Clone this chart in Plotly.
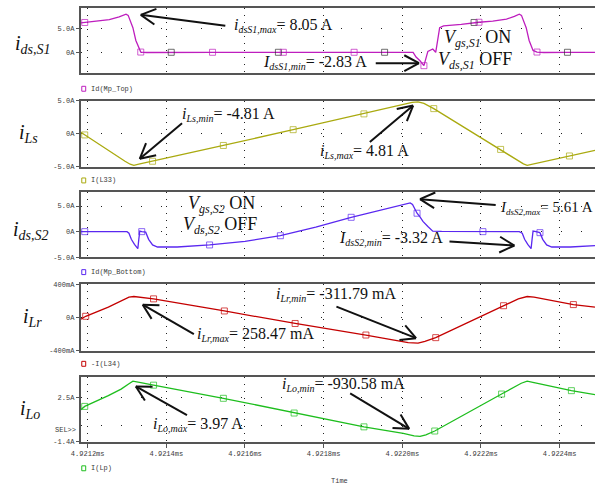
import math
import plotly.graph_objects as go

# Time origin of the sample offsets below (ms); samples are given in ns after it.
T0_MS = 4.9212

# Id(Mp_Top): drain current of the upper switch S1 (A)
S1_T_NS = [-17.5, -7.5, 25, 55, 80, 97.5, 103, 115, 122.5, 132.5, 135, 150, 212.5, 317.5,
           485, 497.5, 677.5, 755, 827.5, 835, 845, 855, 865, 877.5, 885, 895, 905, 950,
           982.5, 995, 1030, 1065, 1085, 1097.5, 1103, 1115, 1122.5, 1132.5, 1142.5, 1160,
           1220, 1290]
S1_I = [6.2, 6.3, 6.55, 6.9, 7.5, 8.05, 7.8, 5.2, 2.5, 0.4, 0.05, -0.05, 0, 0,
        0, 0, 0, 0, 0, -1.0, -1.8, -2.83, 0.2, 0.7, 0.0, 5.2, 5.6, 5.9,
        6.3, 6.35, 6.6, 7.0, 7.6, 8.05, 7.8, 5.2, 2.5, 0.4, 0.05, -0.05,
        0, 0]
S1_MK = [0, 1, 0, 0, 0, 0, 0, 0, 0, 0, 1, 0, 2, 1,
         2, 1, 1, 2, 0, 0, 0, 1, 0, 0, 0, 0, 0, 0,
         2, 1, 0, 0, 0, 0, 0, 0, 0, 0, 1, 0,
         2, 0]

# I(L33): series inductor current iLs (A)
LS_T_NS = [-17.5, -7.5, 50, 95, 108, 117.5, 130, 165, 345, 522.5, 702.5, 800, 825, 840,
           855, 880, 1050, 1095, 1108, 1117.5, 1130, 1225, 1290]
LS_I = [0.2, -0.2, -2.4, -4.2, -4.65, -4.81, -4.65, -4.2, -1.8, 0.6, 3.0, 4.4, 4.75, 4.81,
        4.6, 3.8, -2.4, -4.1, -4.6, -4.81, -4.65, -3.4, -2.55]
LS_MK = [0, 1, 0, 0, 0, 0, 0, 1, 1, 1, 1, 0, 0, 0,
         0, 1, 1, 0, 0, 0, 0, 1, 0]

# Id(Mp_Bottom): drain current of the lower switch S2 (A)
S2_T_NS = [-17.5, -7.5, 100, 105, 111, 119, 127.5, 130, 132.5, 137.5, 147.5, 155, 165, 177.5,
           227.5, 310, 400, 490, 580, 670, 760, 810, 820, 826, 832, 837.5, 845, 852.5,
           865, 877.5, 900, 1005, 1097.5, 1105, 1111, 1119, 1127.5, 1130, 1132.5, 1140,
           1150, 1157, 1167, 1180, 1227.5, 1290]
S2_I = [0, 0, 0, -0.3, -1.5, -2.5, -3.32, -1.5, 0.1, 0.0, -0.1, -1.5, -2.6, -3.0,
        -3.0, -2.6, -1.9, -0.8, 0.9, 2.8, 4.4, 5.4, 5.61, 5.3, 4.4, 3.6, 2.9, 2.0,
        1.0, 0.1, 0.05, 0.0, 0, -0.3, -1.5, -2.5, -3.32, -1.5, 0.1, 0.0,
        -0.2, -1.5, -2.6, -3.0, -3.0, -2.75]
S2_MK = [0, 1, 0, 0, 0, 0, 0, 0, 0, 1, 0, 0, 0, 0,
         0, 1, 0, 1, 0, 1, 0, 0, 0, 0, 0, 1, 0, 0,
         0, 0, 0, 1, 0, 0, 0, 0, 0, 0, 0, 0,
         1, 0, 0, 0, 0, 0]

# -I(L34): resonant inductor current iLr (A)
LR_T_NS = [-17.5, -5, 52.5, 85, 105, 117.5, 135, 167.5, 347.5, 527.5, 707.5, 780, 815, 840,
           857.5, 885, 982.5, 1057.5, 1095, 1117.5, 1135, 1235, 1290]
LR_I = [-0.02, 0.017, 0.13, 0.21, 0.25, 0.25847, 0.25, 0.23, 0.082, -0.071, -0.212, -0.27,
        -0.305, -0.31179, -0.29, -0.244, -0.02, 0.146, 0.23, 0.25847, 0.25, 0.16, 0.13]
LR_MK = [0, 1, 0, 0, 0, 0, 0, 1, 1, 1, 1, 0, 0, 0,
         0, 1, 0, 1, 0, 0, 0, 1, 0]

# I(Lp): output inductor current iLo (A)
LO_T_NS = [-17.5, -7.5, 52.5, 85, 105, 115, 135, 167.5, 345, 525, 702.5, 802.5, 830, 845,
           860, 882.5, 1002.5, 1052.5, 1102.5, 1117.5, 1135, 1230, 1290]
LO_I = [1.43, 1.73, 2.69, 3.27, 3.75, 3.97, 3.85, 3.62, 2.45, 1.14, -0.09, -0.67, -0.9,
        -0.93058, -0.8, -0.46, 1.81, 2.83, 3.79, 3.97, 3.85, 3.13, 2.78]
LO_MK = [0, 1, 0, 0, 0, 0, 0, 1, 1, 1, 1, 0, 0, 0,
         0, 1, 0, 1, 0, 0, 0, 1, 0]

XTICK_MS = [4.9212, 4.9214, 4.9216, 4.9218, 4.9220, 4.9222, 4.9224]
XTICK_TEXT = ["4.9212ms", "4.9214ms", "4.9216ms", "4.9218ms", "4.9220ms", "4.9222ms", "4.9224ms"]

W, H = 595, 493
X_LEFT_PX = 72
X_RANGE_NS = [-17.5, 1290]

MONO = "Liberation Mono"
SERIF = "Liberation Serif"
TXT = "#3a3a3a"
BORDER = "#555555"
DOT = "#222222"
DARK_MARK = "#333333"
INK = "#111111"


def to_ms(ns_list):
    return [T0_MS + v * 1e-6 for v in ns_list]


def fx(px):
    return px / W


def fy(py):
    return 1 - py / H


panels = [
    dict(t=S1_T_NS, v=S1_I, mk=S1_MK, color="#BE1EBE", name="Id(Mp_Top)",
         title="<i>i<sub>ds,S1</sub></i>", title_xy=(3, 42),
         rows=(5.5, 71.5), yr=[-4.48, 9.27],
         tv=[0, 5], tt=["0A", "5.0A"], minor=[], legend_y=87),
    dict(t=LS_T_NS, v=LS_I, mk=LS_MK, color="#AAAA10", name="I(L33)",
         title="<i>i<sub>Ls</sub></i>", title_xy=(7, 132),
         rows=(99, 166), yr=[-5.02, 5.02],
         tv=[-5, 0, 5], tt=["-5.0A", "0A", "5.0A"], minor=[], legend_y=180),
    dict(t=S2_T_NS, v=S2_I, mk=S2_MK, color="#5A28F0", name="Id(Mp_Bottom)",
         title="<i>i<sub>ds,S2</sub></i>", title_xy=(1, 231),
         rows=(192, 258), yr=[-5.02, 7.69],
         tv=[-5, 0, 5], tt=["-5.0A", "0A", "5.0A"], minor=[], legend_y=273),
    dict(t=LR_T_NS, v=LR_I, mk=LR_MK, color="#C40000", name="-I(L34)",
         title="<i>i<sub>Lr</sub></i>", title_xy=(11, 319),
         rows=(285, 353), yr=[-0.407, 0.412],
         tv=[-0.4, 0, 0.4], tt=["-400mA", "0A", "400mA"], minor=[], legend_y=366),
    dict(t=LO_T_NS, v=LO_I, mk=LO_MK, color="#1EBE1E", name="I(Lp)",
         title="<i>i<sub>Lo</sub></i>", title_xy=(8, 412),
         rows=(379, 445), yr=[-1.41, 4.38],
         tv=[-1.4, 2.5], tt=["-1.4A", "2.5A"], minor=[0], legend_y=472),
]

fig = go.Figure()
annotations = []
shapes = []
layout = {}

for k, p in enumerate(panels, start=1):
    xa = "xaxis" if k == 1 else f"xaxis{k}"
    ya = "yaxis" if k == 1 else f"yaxis{k}"
    xr = "x" if k == 1 else f"x{k}"
    yr = "y" if k == 1 else f"y{k}"

    sizes = [0 if m == 0 else 6 for m in p["mk"]]
    mcols = [DARK_MARK if m == 2 else p["color"] for m in p["mk"]]
    fig.add_trace(go.Scatter(
        x=to_ms(p["t"]), y=p["v"], xaxis=xr, yaxis=yr, mode="lines+markers",
        line=dict(color=p["color"], width=1.3),
        marker=dict(symbol="square-open", size=sizes, color=mcols, line=dict(width=1)),
        name=p["name"], showlegend=False, hoverinfo="skip"))

    top, bot = p["rows"]
    last = k == len(panels)
    layout[xa] = dict(
        domain=[fx(X_LEFT_PX), 1], anchor=yr,
        range=to_ms(X_RANGE_NS),
        tickmode="array", tickvals=XTICK_MS, ticktext=XTICK_TEXT,
        showticklabels=last, ticks="outside" if last else "", ticklen=4,
        tickcolor=BORDER, tickwidth=1,
        tickfont=dict(family=MONO, size=7, color=TXT),
        showgrid=True, gridcolor=DOT, gridwidth=1, griddash="1px,6px",
        showline=True, linecolor=BORDER, linewidth=2, mirror=True,
        zeroline=False, fixedrange=True,
    )
    if k > 1:
        layout[xa]["matches"] = "x"
    yax = dict(
        domain=[fy(bot), fy(top)], anchor=xr, range=p["yr"],
        tickmode="array", tickvals=p["tv"], ticktext=p["tt"],
        ticks="outside", ticklen=3, tickcolor=BORDER, tickwidth=1,
        tickfont=dict(family=MONO, size=7, color=TXT),
        showgrid=True, gridcolor=DOT, gridwidth=1, griddash="1px,19px",
        showline=True, linecolor=BORDER, linewidth=2, mirror=False,
        zeroline=False, fixedrange=True,
    )
    if p["minor"]:
        yax["minor"] = dict(tickmode="array", tickvals=p["minor"], showgrid=True,
                            gridcolor=DOT, gridwidth=1, griddash="1px,19px", ticks="")
    layout[ya] = yax

    # legend entry below each panel: small square in trace colour and the probe name
    ly = p["legend_y"]
    shapes.append(dict(type="rect", xref="paper", yref="paper",
                       x0=fx(73), x1=fx(77), y0=fy(ly + 2.5), y1=fy(ly - 2.5),
                       line=dict(color=p["color"], width=1), fillcolor="rgba(0,0,0,0)"))
    annotations.append(dict(x=fx(80), y=fy(ly), xref="paper", yref="paper",
                            text=p["name"], showarrow=False, xanchor="left", yanchor="middle",
                            font=dict(family=MONO, size=7, color=TXT)))

    # quantity name to the left of the panel
    tx, ty = p["title_xy"]
    annotations.append(dict(x=fx(tx), y=fy(ty), xref="paper", yref="paper",
                            text=p["title"], showarrow=False, xanchor="left", yanchor="middle",
                            font=dict(family=SERIF, size=20, color=INK)))


def label(sym, sub, rest, sub_px=10):
    return f"<i>{sym}<sub><span style='font-size:{sub_px}px'>{sub}</span></sub></i>{rest}"


def state(sym, sub, rest):
    return f"<i>{sym}<sub><span style='font-size:12px'>{sub}</span></sub></i>{rest}"


def note(x, y, html, size=16):
    return dict(x=fx(x), y=fy(y), xref="paper", yref="paper", text=html, showarrow=False,
                xanchor="left", yanchor="middle",
                font=dict(family=SERIF, size=size, color=INK))


def arrow(tail, tip, length=15, half=8):
    """Shaft plus an open chevron head, as three line shapes."""
    dx, dy = tip[0] - tail[0], tip[1] - tail[1]
    d = math.hypot(dx, dy)
    ux, uy = dx / d, dy / d
    nx, ny = -uy, ux
    bx, by = tip[0] - length * ux, tip[1] - length * uy
    segs = [(tail, tip),
            ((bx + half * nx, by + half * ny), tip),
            ((bx - half * nx, by - half * ny), tip)]
    return [dict(type="line", xref="paper", yref="paper",
                 x0=fx(a[0]), y0=fy(a[1]), x1=fx(b[0]), y1=fy(b[1]),
                 line=dict(color=INK, width=2)) for a, b in segs]


annotations += [
    note(226, 23, label("i", "dsS1,max", "= 8.05 A")),
    note(255, 60, label("I", "dsS1,min", "= -2.83 A")),
    note(439, 36, state("V", "gs,S1", " ON"), size=18),
    note(433, 58, state("V", "ds,S1", " OFF"), size=18),

    note(173, 113, label("i", "Ls,min", "= -4.81 A")),
    note(313, 151, label("i", "Ls,max", "= 4.81 A")),

    note(179, 204, state("V", "gs,S2", " ON"), size=18),
    note(174, 226, state("V", "ds,S2", " OFF"), size=18),
    note(496, 208, label("I", "dsS2,max", "= 5.61 A", sub_px=9), size=15),
    note(333, 239, label("I", "dsS2,min", "= -3.32 A")),

    note(188, 336, label("i", "Lr,max", "= 258.47 mA")),
    note(269, 296, label("i", "Lr,min", "= -311.79 mA")),

    note(143, 428, label("i", "Lo,max", "= 3.97 A")),
    note(275, 387, label("i", "Lo,min", "= -930.58 mA")),

    dict(x=fx(69), y=fy(433), xref="paper", yref="paper", text="SEL&gt;&gt;",
         showarrow=False, xanchor="right", yanchor="middle",
         font=dict(family=MONO, size=7, color=TXT)),
    dict(x=fx(335), y=fy(485), xref="paper", yref="paper", text="Time",
         showarrow=False, xanchor="center", yanchor="middle",
         font=dict(family=MONO, size=7, color=TXT)),
]

ARROWS = [
    ((219, 23), (133, 12)),
    ((372, 61), (416, 61)),
    ((175, 122), (132, 158)),
    ((366, 141), (410, 104)),
    ((494, 205), (417, 199)),
    ((447, 242), (513, 246)),
    ((187, 336), (135, 306)),
    ((332, 308), (413, 340)),
    ((180, 418), (128, 389)),
    ((346, 396), (406, 432)),
]
for tail, tip in ARROWS:
    shapes += arrow(tail, tip)

fig.update_layout(
    width=W, height=H, margin=dict(l=0, r=0, t=0, b=0),
    paper_bgcolor="white", plot_bgcolor="white",
    showlegend=False, annotations=annotations, shapes=shapes,
    **layout,
)

fig.write_html("out.html")
